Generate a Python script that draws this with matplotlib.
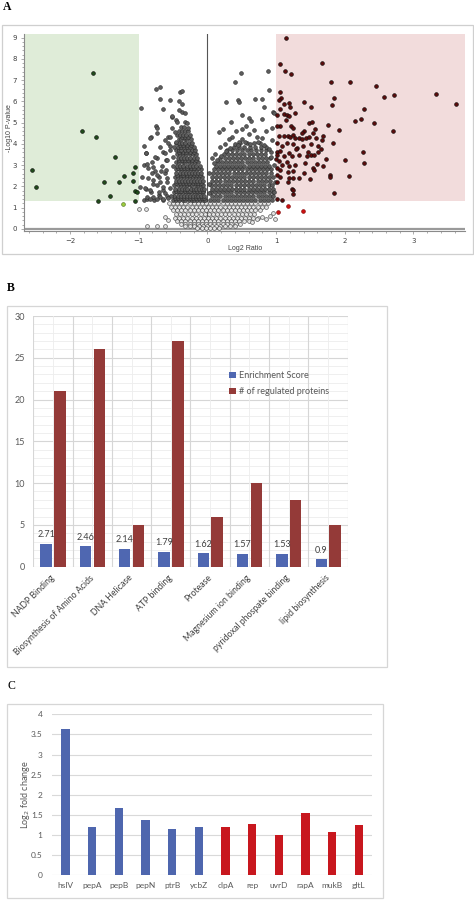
import numpy as np
import matplotlib
matplotlib.use('Agg')
import matplotlib.pyplot as plt
from matplotlib.patches import Rectangle
from matplotlib.ticker import MultipleLocator

# ---------------- data: panel A (volcano) ----------------
sig_down = [(-2.55, 2.76), (-2.49, 1.99), (-1.67, 7.32), (-1.82, 4.59), (-1.62, 4.34),
            (-1.59, 1.33), (-1.50, 2.21), (-1.35, 3.39), (-1.42, 1.57), (-1.28, 2.21),
            (-1.22, 2.49), (-1.09, 2.65), (-1.09, 2.24), (-1.06, 2.93), (-1.05, 1.79),
            (-1.03, 1.73), (-1.05, 1.33)]
ns_down = [(-1.23, 1.19)]

sig_up = [(1.15, 9.00), (1.05, 7.78), (1.13, 7.43), (1.22, 7.28), (1.67, 7.81), (1.80, 6.93),
          (2.08, 6.93), (2.46, 6.71), (2.57, 6.22), (2.72, 6.30), (3.33, 6.36), (3.62, 5.88),
          (1.84, 6.16), (1.81, 5.83), (2.28, 5.66), (2.15, 5.07), (2.23, 5.16), (2.42, 4.99),
          (2.70, 4.59), (1.91, 4.64), (1.75, 4.91), (2.27, 3.62), (2.28, 3.12), (2.06, 2.51),
          (2.00, 3.25), (1.85, 1.68), (1.78, 2.54), (1.78, 2.46), (1.83, 4.05), (1.68, 4.37),
          (1.40, 5.99), (1.51, 5.72), (1.27, 5.46), (1.06, 6.46), (1.07, 6.15), (1.04, 6.05),
          (1.11, 5.90), (1.19, 5.94), (1.20, 5.75), (1.06, 5.63), (1.02, 5.36), (1.12, 5.40),
          (1.16, 5.36), (1.19, 5.31), (1.14, 5.13), (1.06, 4.84), (1.02, 4.83), (1.22, 4.86),
          (1.25, 4.74), (1.40, 4.61), (1.37, 4.50), (1.48, 5.00), (1.52, 5.03), (1.57, 4.72),
          (1.54, 4.52), (1.04, 4.36), (1.11, 4.36), (1.17, 4.39), (1.20, 4.33), (1.25, 4.41),
          (1.28, 4.27), (1.34, 4.30), (1.38, 4.23), (1.44, 4.30), (1.48, 4.31), (1.58, 4.30),
          (1.67, 4.19), (1.02, 4.03), (1.08, 3.90), (1.16, 4.05), (1.24, 4.01), (1.31, 3.81),
          (1.39, 3.89), (1.51, 4.01), (1.61, 3.92), (1.01, 3.64), (1.06, 3.68), (1.19, 3.57),
          (1.29, 3.78), (1.47, 3.61), (1.51, 3.50), (1.55, 3.50), (1.61, 3.64), (1.66, 3.78),
          (1.72, 3.28), (1.02, 3.48), (1.11, 3.43), (1.23, 3.42), (1.34, 3.46), (1.45, 3.43),
          (1.00, 3.31), (1.04, 3.21), (1.08, 3.03), (1.16, 3.17), (1.19, 2.98), (1.27, 3.03),
          (1.42, 3.12), (1.53, 2.85), (1.55, 2.78), (1.60, 3.04), (1.68, 2.98), (1.01, 2.85),
          (1.06, 2.76), (1.18, 2.67), (1.24, 2.74), (1.41, 2.63), (1.02, 2.54), (1.05, 2.46),
          (1.19, 2.40), (1.25, 2.41), (1.34, 2.38), (1.49, 2.34), (1.17, 2.21), (1.02, 2.21),
          (1.23, 1.87), (1.25, 1.82), (1.24, 1.65), (1.02, 1.40), (1.09, 1.35)]
ns_up = [(1.17, 1.08), (1.03, 0.78), (1.39, 0.86)]

gray_left = [(-0.96, 5.68), (-0.75, 6.60), (-0.69, 6.69), (-0.69, 6.13), (-0.65, 5.64),
             (-0.54, 6.05), (-0.40, 6.43), (-0.37, 6.51), (-0.41, 6.00), (-0.37, 5.52),
             (-0.51, 5.28), (-0.75, 4.84), (-0.73, 4.77), (-0.82, 4.31), (-0.92, 3.92),
             (-0.89, 3.57), (-0.74, 3.34), (-0.93, 3.03), (-0.88, 3.04), (-0.95, 2.46),
             (-0.98, 1.99), (-0.90, 1.90), (-0.82, 1.75), (-0.79, 2.30), (-0.77, 2.74),
             (-0.67, 2.74), (-0.71, 2.46), (-0.74, 2.07), (-0.65, 1.83), (-0.92, 1.36),
             (-0.88, 1.40), (-0.78, 1.36), (-0.71, 1.60), (-0.64, 1.36), (-0.62, 2.62),
             (-0.60, 3.25), (-0.54, 3.90), (-0.57, 4.34), (-0.65, 3.64), (-0.59, 2.22),
             (-0.53, 1.55), (-0.50, 2.96), (-0.50, 3.40), (-0.51, 4.74), (-0.47, 4.58),
             (-0.45, 4.11), (-0.49, 3.87), (-0.51, 5.32), (-0.37, 5.88), (-0.41, 5.60),
             (-0.46, 5.13), (-0.44, 5.03), (-0.32, 5.44), (-0.33, 5.05), (-0.28, 4.73),
             (-0.30, 4.97), (-0.83, 4.28), (-0.90, 3.56), (-0.73, 4.50), (-0.69, 3.87),
             (-0.62, 4.19), (-0.76, 3.37), (-0.81, 3.17), (-0.87, 2.85), (-0.79, 2.93),
             (-0.66, 2.96), (-0.81, 2.62), (-0.74, 2.54), (-0.86, 2.38), (-0.69, 2.22),
             (-0.79, 2.12), (-0.64, 1.99), (-0.91, 1.94), (-0.83, 1.83), (-0.71, 1.75),
             (-0.62, 1.68), (-0.88, 1.52), (-0.79, 1.52), (-0.69, 1.49), (-0.59, 1.55),
             (-0.83, 1.40), (-0.74, 1.40), (-0.65, 1.40), (-0.57, 1.44), (-0.62, 3.56),
             (-0.59, 3.25), (-0.55, 3.72), (-0.57, 4.03), (-0.54, 4.34), (-0.59, 2.38),
             (-0.60, 2.78), (-0.55, 1.91)]

gray_right = [(0.49, 7.34), (0.40, 6.93), (0.88, 7.43), (0.89, 6.54), (0.27, 5.97), (0.44, 6.05),
              (0.46, 5.96), (0.70, 6.11), (0.80, 6.11), (0.83, 5.74), (0.80, 5.16), (0.51, 5.36),
              (0.61, 5.22), (0.63, 5.07), (0.35, 5.02), (0.22, 4.70), (0.17, 4.55), (0.42, 4.61),
              (0.50, 4.72), (0.56, 4.83), (0.68, 4.67), (0.51, 4.25), (0.46, 4.11), (0.40, 4.01),
              (0.36, 4.34), (0.32, 4.22), (0.79, 4.27), (0.95, 5.49), (0.97, 5.44), (0.94, 4.77),
              (0.94, 4.19), (0.19, 3.84), (0.11, 3.51), (0.07, 3.33), (0.02, 2.62),
              (0.60, 4.45), (0.72, 4.35), (0.86, 4.60), (0.25, 4.00), (0.92, 3.60), (0.97, 3.00),
              (0.98, 2.20), (0.97, 1.75), (0.02, 2.10), (0.03, 1.70),
              (0.10, 3.10), (0.14, 3.25), (0.20, 3.45), (0.27, 3.65), (0.33, 3.80), (0.45, 3.95),
              (0.55, 4.10), (0.62, 4.00), (0.74, 4.10), (0.82, 3.95), (0.90, 3.75), (0.93, 3.40)]

core_left_rows = [
    (1.38, [-0.50, -0.45, -0.41, -0.36, -0.32, -0.27, -0.23, -0.19, -0.15, -0.11, -0.07, -0.03]),
    (1.47, [-0.47, -0.43, -0.39, -0.34, -0.30, -0.25, -0.21, -0.17, -0.12, -0.08, -0.05]),
    (1.55, [-0.48, -0.43, -0.38, -0.34, -0.29, -0.25, -0.21, -0.17, -0.13, -0.09, -0.05]),
    (1.72, [-0.49, -0.44, -0.40, -0.35, -0.31, -0.27, -0.22, -0.18, -0.14, -0.10, -0.06]),
    (1.81, [-0.46, -0.41, -0.38, -0.33, -0.28, -0.25, -0.20, -0.15, -0.11, -0.07]),
    (1.90, [-0.47, -0.42, -0.37, -0.33, -0.29, -0.24, -0.20, -0.16, -0.12, -0.08, -0.05]),
    (2.08, [-0.48, -0.43, -0.39, -0.34, -0.30, -0.26, -0.22, -0.17, -0.13, -0.09, -0.06]),
    (2.17, [-0.45, -0.40, -0.35, -0.31, -0.27, -0.21, -0.17, -0.13, -0.09]),
    (2.26, [-0.46, -0.41, -0.37, -0.32, -0.28, -0.24, -0.19, -0.15, -0.11, -0.07]),
    (2.44, [-0.47, -0.43, -0.38, -0.34, -0.29, -0.25, -0.21, -0.16, -0.12, -0.08]),
    (2.53, [-0.44, -0.39, -0.35, -0.30, -0.26, -0.20, -0.15, -0.11]),
    (2.62, [-0.45, -0.40, -0.36, -0.31, -0.27, -0.22, -0.18, -0.13, -0.09]),
    (2.80, [-0.46, -0.42, -0.37, -0.33, -0.28, -0.24, -0.19, -0.15, -0.10]),
    (2.89, [-0.43, -0.38, -0.34, -0.29, -0.24, -0.19, -0.14]),
    (2.98, [-0.44, -0.40, -0.35, -0.30, -0.26, -0.21, -0.16, -0.11]),
    (3.16, [-0.45, -0.41, -0.36, -0.32, -0.27, -0.23, -0.18, -0.13]),
    (3.25, [-0.42, -0.37, -0.33, -0.28, -0.22, -0.17]),
    (3.34, [-0.43, -0.39, -0.34, -0.29, -0.25, -0.20, -0.15]),
    (3.52, [-0.44, -0.40, -0.35, -0.31, -0.26, -0.21, -0.16]),
    (3.61, [-0.41, -0.36, -0.31, -0.25, -0.20]),
    (3.70, [-0.46, -0.42, -0.38, -0.33, -0.28, -0.23, -0.18]),
    (3.88, [-0.43, -0.39, -0.34, -0.30, -0.25, -0.20]),
    (3.97, [-0.40, -0.36, -0.30, -0.24]),
    (4.06, [-0.45, -0.41, -0.37, -0.32, -0.27, -0.22]),
    (4.24, [-0.42, -0.38, -0.33, -0.29, -0.24]),
    (4.33, [-0.37, -0.32, -0.28]),
    (4.42, [-0.44, -0.40, -0.35, -0.31, -0.26]),
    (4.60, [-0.42, -0.37, -0.33, -0.28]),
    (4.78, [-0.39, -0.34]),
]

core_right_rows = [
    (1.38, [0.04, 0.10, 0.16, 0.22, 0.28, 0.34, 0.40, 0.46, 0.52, 0.58, 0.64, 0.70, 0.76, 0.82, 0.88, 0.94]),
    (1.55, [0.07, 0.13, 0.19, 0.25, 0.31, 0.37, 0.43, 0.49, 0.55, 0.61, 0.67, 0.73, 0.79, 0.85, 0.91, 0.96]),
    (1.72, [0.05, 0.11, 0.17, 0.23, 0.29, 0.35, 0.41, 0.47, 0.53, 0.59, 0.65, 0.71, 0.77, 0.83, 0.89, 0.95]),
    (1.90, [0.06, 0.12, 0.18, 0.24, 0.30, 0.36, 0.42, 0.48, 0.54, 0.60, 0.66, 0.72, 0.78, 0.84, 0.90, 0.96]),
    (2.08, [0.05, 0.11, 0.17, 0.23, 0.29, 0.35, 0.41, 0.47, 0.53, 0.59, 0.65, 0.71, 0.77, 0.83, 0.89, 0.94]),
    (2.26, [0.07, 0.13, 0.19, 0.25, 0.31, 0.37, 0.43, 0.49, 0.55, 0.61, 0.67, 0.73, 0.79, 0.85, 0.91]),
    (2.44, [0.06, 0.12, 0.18, 0.24, 0.30, 0.36, 0.42, 0.48, 0.54, 0.60, 0.66, 0.72, 0.78, 0.84, 0.90, 0.95]),
    (2.62, [0.08, 0.14, 0.20, 0.26, 0.32, 0.38, 0.44, 0.50, 0.56, 0.62, 0.68, 0.74, 0.80, 0.86, 0.92]),
    (2.80, [0.09, 0.15, 0.21, 0.27, 0.33, 0.39, 0.45, 0.51, 0.57, 0.63, 0.69, 0.75, 0.81, 0.87, 0.93]),
    (2.98, [0.12, 0.18, 0.24, 0.30, 0.36, 0.42, 0.48, 0.54, 0.60, 0.66, 0.72, 0.78, 0.84, 0.90]),
    (3.16, [0.15, 0.21, 0.27, 0.33, 0.39, 0.45, 0.51, 0.57, 0.63, 0.69, 0.75, 0.81, 0.87]),
    (3.34, [0.19, 0.25, 0.31, 0.37, 0.43, 0.49, 0.55, 0.61, 0.67, 0.73, 0.79, 0.85, 0.91]),
    (3.52, [0.24, 0.30, 0.36, 0.42, 0.48, 0.54, 0.60, 0.66, 0.72, 0.78, 0.84]),
    (3.70, [0.29, 0.36, 0.43, 0.50, 0.57, 0.64, 0.71, 0.78, 0.85]),
    (3.88, [0.38, 0.46, 0.54, 0.62, 0.70, 0.78, 0.86]),
    (4.06, [0.48, 0.58, 0.68, 0.77]),
]

open_rows = [
    (1.22, [-0.56, -0.50, -0.44, -0.38, -0.32, -0.26, -0.20, -0.14, -0.08, -0.02, 0.04, 0.10, 0.16,
            0.22, 0.28, 0.34, 0.40, 0.46, 0.52, 0.58, 0.64, 0.70, 0.76, 0.82, 0.88]),
    (1.05, [-0.53, -0.47, -0.41, -0.35, -0.29, -0.23, -0.17, -0.11, -0.05, 0.01, 0.07, 0.13, 0.19,
            0.25, 0.31, 0.37, 0.43, 0.49, 0.55, 0.61, 0.67, 0.73, 0.79, 0.85]),
    (0.88, [-0.50, -0.44, -0.38, -0.32, -0.26, -0.20, -0.14, -0.08, -0.02, 0.04, 0.10, 0.16, 0.22,
            0.28, 0.34, 0.40, 0.46, 0.52, 0.58, 0.64, 0.70, 0.76]),
    (0.71, [-0.46, -0.40, -0.34, -0.28, -0.22, -0.16, -0.10, -0.04, 0.02, 0.08, 0.14, 0.20, 0.26,
            0.32, 0.38, 0.44, 0.50, 0.56, 0.62, 0.68]),
    (0.54, [-0.47, -0.41, -0.35, -0.29, -0.23, -0.17, -0.11, -0.05, 0.01, 0.07, 0.13, 0.19, 0.25,
            0.31, 0.37, 0.43, 0.49, 0.55, 0.61, 0.67, 0.74]),
    (0.38, [-0.44, -0.38, -0.32, -0.26, -0.20, -0.14, -0.08, -0.02, 0.04, 0.10, 0.16, 0.22, 0.28,
            0.34, 0.40, 0.46, 0.53, 0.60]),
    (0.24, [-0.38, -0.32, -0.26, -0.20, -0.14, -0.08, -0.02, 0.04, 0.10, 0.16, 0.22, 0.28, 0.34,
            0.41, 0.48]),
    (0.12, [-0.33, -0.26, -0.19, -0.12, -0.06, 0.00, 0.06, 0.12, 0.19, 0.26, 0.33, 0.40]),
    (0.03, [-0.15, -0.08, -0.02, 0.04, 0.10, 0.17]),
]
open_extra = [(-0.99, 0.95), (-0.90, 0.95), (-0.88, 0.15), (-0.73, 0.12), (-0.62, 0.15),
              (-0.62, 0.55), (-0.57, 0.42), (0.80, 0.55), (0.86, 0.47), (0.98, 0.47),
              (0.91, 0.62), (0.95, 0.75), (0.72, 0.45), (0.65, 0.35)]

# ---------------- data: panel B ----------------
terms = ['NADP Binding', 'Biosynthesis of Amino Acids', 'DNA Helicase', 'ATP binding',
         'Protease', 'Magnesium ion binding', 'pyridoxal phospate binding', 'lipid biosynthesis']
enrichment = [2.71, 2.46, 2.14, 1.79, 1.62, 1.57, 1.53, 0.9]
n_regulated = [21, 26, 5, 27, 6, 10, 8, 5]

# ---------------- data: panel C ----------------
genes = ['hslV', 'pepA', 'pepB', 'pepN', 'ptrB', 'ycbZ', 'clpA', 'rep', 'uvrD', 'rapA', 'mukB', 'gltL']
log2fc = [3.64, 1.20, 1.68, 1.38, 1.14, 1.20, 1.21, 1.27, 1.00, 1.54, 1.07, 1.26]
gene_colors = ['#4e66ae'] * 6 + ['#c8171e'] * 6

W, H = 474, 900


def px_box(l, t, r, b):
    return [l / W, 1 - b / H, (r - l) / W, (b - t) / H]


def frame(l, t, r, b, col='#d6d6d6'):
    fig.patches.append(Rectangle((l / W, 1 - b / H), (r - l) / W, (b - t) / H,
                                 transform=fig.transFigure, fill=False, ec=col, lw=0.9))


def rows_to_xy(rows):
    xs, ys = [], []
    for y, row in rows:
        xs += row
        ys += [y] * len(row)
    return xs, ys


fig = plt.figure(figsize=(W / 100, H / 100), dpi=100)

# ================= panel A =================
frame(2, 25, 473, 254, '#cfcfcf')
fig.text(7 / W, 1 - 6.5 / H, 'A', family='Liberation Serif', weight='bold', fontsize=8.5,
         ha='center', va='center')

axA = fig.add_axes(px_box(24, 34.3, 465, 230.7))
xmin, xmax, ymin, ymax = -2.67, 3.75, -0.08, 9.16
axA.set_xlim(xmin, xmax)
axA.set_ylim(ymin, ymax)
axA.add_patch(Rectangle((xmin, 1.3), -1 - xmin, ymax - 1.3, color='#dfecd8', lw=0, zorder=0))
axA.add_patch(Rectangle((1, 1.3), xmax - 1, ymax - 1.3, color='#f2dcdc', lw=0, zorder=0))
axA.plot([0, 0], [0, ymax], color='#555555', lw=0.8, zorder=1)
axA.axhline(0, color='#9a9a9a', lw=1.6, zorder=1)

ms = 7.5
ox, oy = rows_to_xy(open_rows)
ox += [p[0] for p in open_extra]
oy += [p[1] for p in open_extra]
axA.scatter(ox, oy, s=ms, facecolor='#e2e2e2', edgecolor='#4a4a4a', lw=0.45, zorder=2)

lx, ly = rows_to_xy(core_left_rows)
rx, ry = rows_to_xy(core_right_rows)
gx = lx + rx + [p[0] for p in gray_left + gray_right]
gy = ly + ry + [p[1] for p in gray_left + gray_right]
axA.scatter(gx, gy, s=ms, facecolor='#5c5c5c', edgecolor='#2a2a2a', lw=0.4, zorder=3)

axA.scatter([p[0] for p in sig_down], [p[1] for p in sig_down], s=ms,
            facecolor='#1f4a1a', edgecolor='#0a0a0a', lw=0.4, zorder=4)
axA.scatter([p[0] for p in ns_down], [p[1] for p in ns_down], s=ms,
            facecolor='#9ccc3c', edgecolor='#4a6a20', lw=0.4, zorder=4)
axA.scatter([p[0] for p in sig_up], [p[1] for p in sig_up], s=ms,
            facecolor='#5a0c0c', edgecolor='#0a0a0a', lw=0.4, zorder=4)
axA.scatter([p[0] for p in ns_up], [p[1] for p in ns_up], s=ms,
            facecolor='#cc1010', edgecolor='#7a0000', lw=0.4, zorder=4)

for s in ['top', 'right']:
    axA.spines[s].set_visible(False)
for s in ['left', 'bottom']:
    axA.spines[s].set_color('#8a8a8a')
    axA.spines[s].set_linewidth(0.8)
axA.set_xticks([-2, -1, 0, 1, 2, 3])
axA.set_yticks(range(0, 10))
axA.xaxis.set_minor_locator(MultipleLocator(0.2))
axA.yaxis.set_minor_locator(MultipleLocator(0.2))
axA.tick_params(which='both', labelsize=5, colors='#8a8a8a', labelcolor='#404040', width=0.5)
axA.tick_params(which='major', length=2.5, pad=2.5)
axA.tick_params(which='minor', length=1.3)
fig.text(10 / W, 1 - 128 / H, '-Log10 P-value', rotation=90, fontsize=5, color='#404040',
         ha='center', va='center', family='Liberation Sans')
fig.text(245 / W, 1 - 249 / H, 'Log2 Ratio', fontsize=5, color='#404040',
         ha='center', va='center', family='Liberation Sans')

# ================= panel B =================
frame(7, 306, 387, 667)
fig.text(11 / W, 1 - 288 / H, 'B', family='Liberation Serif', weight='bold', fontsize=8.5,
         ha='center', va='center')

axB = fig.add_axes(px_box(33.3, 316, 347.7, 566.7))
xb = np.arange(len(terms))
axB.set_xlim(-0.5, len(terms) - 0.5)
axB.set_ylim(0, 30)
for yv in range(0, 31):
    axB.axhline(yv, color='#d6d6d6' if yv % 5 == 0 else '#ededed',
                lw=0.8 if yv % 5 == 0 else 0.6, zorder=0)
for xv in np.arange(-0.5, len(terms)):
    axB.axvline(xv, color='#d6d6d6', lw=0.8, zorder=0)
for xv in xb:
    axB.axvline(xv, color='#ededed', lw=0.6, zorder=0)
axB.bar(xb - 0.174, enrichment, width=0.29, color='#4f67b1', label='Enrichment Score', zorder=2)
axB.bar(xb + 0.178, n_regulated, width=0.29, color='#943a38', label='# of regulated proteins', zorder=2)
for i, v in enumerate(enrichment):
    axB.text(i - 0.174, v + 0.55, str(v), ha='center', va='bottom', fontsize=6.5,
             color='#404040', family='Lato')
for s in axB.spines.values():
    s.set_visible(False)
axB.set_yticks(range(0, 31, 5))
axB.tick_params(axis='y', length=0, labelsize=6.5, labelcolor='#595959', pad=6)
axB.set_xticks(xb)
axB.set_xticklabels(terms, rotation=45, ha='right', va='center', rotation_mode='anchor',
                    fontsize=6.3, color='#404040', family='Lato')
axB.tick_params(axis='x', length=0, pad=7)
for t in axB.get_yticklabels():
    t.set_family('Lato')
leg = axB.legend(loc='upper left', bbox_to_anchor=(0.624, 0.78), frameon=False,
                 handlelength=0.7, handleheight=0.7, handletextpad=0.3, labelspacing=0.75,
                 borderpad=0, borderaxespad=0, prop={'family': 'Lato', 'size': 6.5})
for t in leg.get_texts():
    t.set_color('#595959')

# ================= panel C =================
frame(7, 704, 383, 898)
fig.text(11 / W, 1 - 686 / H, 'C', family='Liberation Serif', fontsize=8.5,
         ha='center', va='center')

axC = fig.add_axes(px_box(52.3, 714.3, 372, 875.3))
xc = np.arange(len(genes))
axC.set_xlim(-0.5, len(genes) - 0.5)
axC.set_ylim(0, 4)
for yv in np.arange(0, 4.01, 0.5):
    axC.axhline(yv, color='#d9d9d9', lw=0.8, zorder=0)
axC.bar(xc, log2fc, width=0.31, color=gene_colors, zorder=2)
for s in axC.spines.values():
    s.set_visible(False)
axC.set_yticks(np.arange(0, 4.01, 0.5))
axC.set_yticklabels(['0', '0.5', '1', '1.5', '2', '2.5', '3', '3.5', '4'])
axC.tick_params(axis='y', length=0, labelsize=6, labelcolor='#595959', pad=7)
axC.set_xticks(xc)
axC.set_xticklabels(genes)
axC.tick_params(axis='x', length=0, labelsize=6, labelcolor='#595959', pad=5)
for t in axC.get_xticklabels() + axC.get_yticklabels():
    t.set_family('Lato')
fig.text(25 / W, 1 - 795 / H, 'Log$_2$ fold change', rotation=90, fontsize=6.5, color='#595959',
         ha='center', va='center', family='Lato')

fig.savefig('out.png', dpi=100)
